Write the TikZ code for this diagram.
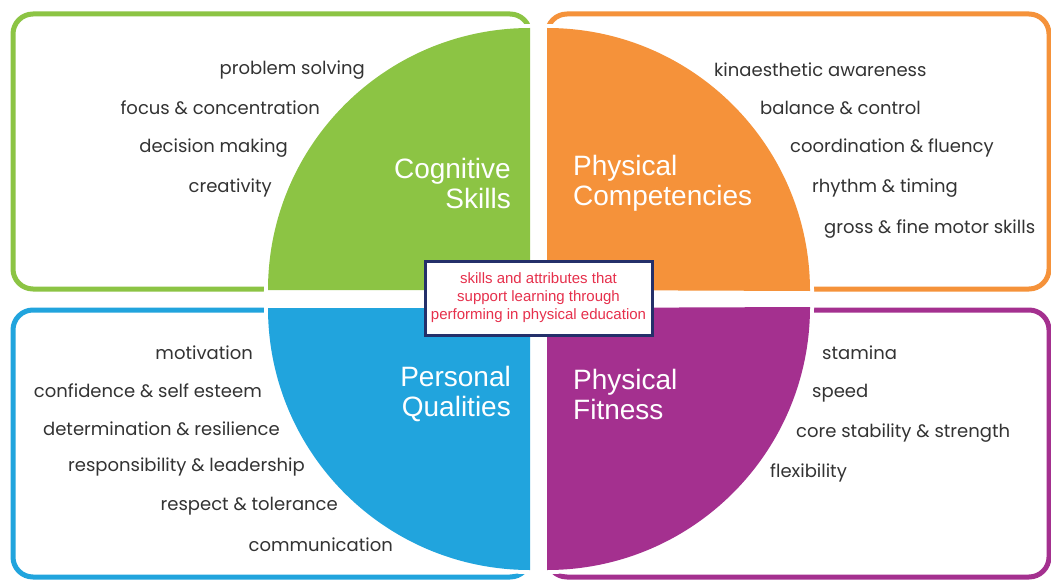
\documentclass[tikz,border=0pt]{standalone}
\usepackage{fontspec}
\newfontfamily\listfont{Poppins}
\newfontfamily\titlefont{Liberation Sans}
\definecolor{cgreen}{HTML}{8CC444}
\definecolor{corange}{HTML}{F5923A}
\definecolor{cblue}{HTML}{21A4DD}
\definecolor{cpurple}{HTML}{A4308F}
\definecolor{ctext}{HTML}{333333}
\definecolor{cnavy}{HTML}{24306A}
\definecolor{cred}{HTML}{E6304C}
\begin{document}
\begin{tikzpicture}[x=1pt,y=-1pt,
  panel/.style={line width=5pt,rounded corners=20pt},
  quarter/.style={preaction={draw=white,line width=8pt},fill=#1},
  item/.style={text=ctext,font=\listfont\fontsize{18}{20}\selectfont,inner sep=0pt},
  itemL/.style={item,anchor=east},
  itemR/.style={item,anchor=west},
  ttl/.style={text=white,font=\titlefont\fontsize{28}{30}\selectfont,inner sep=0pt,align=#1},
  centerbox/.style={draw=cnavy,line width=3pt,fill=white,minimum width=227pt,minimum height=74pt,
    text=cred,font=\titlefont\fontsize{15}{18}\selectfont,align=center,inner sep=0pt}]
\useasboundingbox (0,0) rectangle (1051,580);
\fill[white] (0,0) rectangle (1051,580);
% panels
\draw[panel,cgreen] (13,14) rectangle (530,289);
\draw[panel,corange] (547,14) rectangle (1049,289);
\draw[panel,cblue] (13,310) rectangle (530,577);
\draw[panel,cpurple] (547,310) rectangle (1049,577);
% quarters
\path[quarter=cgreen] (530,290) -- (268,290) arc[start angle=180,end angle=90,radius=262pt] -- cycle;
\path[quarter=corange] (547,290) -- (547,28) arc[start angle=90,end angle=0,radius=263pt] -- cycle;
\path[quarter=cblue] (530,308) -- (268,308) arc[start angle=180,end angle=270,radius=262pt] -- cycle;
\path[quarter=cpurple] (547,308) -- (547,570) arc[start angle=270,end angle=360,radius=263pt] -- cycle;
% titles
\node[ttl=right,anchor=east] (tcog) at (511,183) {Cognitive\\Skills};
\node[ttl=left,anchor=west] (tcomp) at (573,183) {Physical\\Competencies};
\node[ttl=right,anchor=east] (tpers) at (511,394) {Personal\\Qualities};
\node[ttl=left,anchor=west] (tfit) at (573,394) {Physical\\Fitness};
% center
\node[centerbox] (center) at (538.5,298) {skills and attributes that\\support learning through\\performing in physical education};
% cognitive
\node[itemL] (c1) at (365,70) {problem solving};
\node[itemL] (c2) at (320,108) {focus \& concentration};
\node[itemL] (c3) at (288,148) {decision making};
\node[itemL] (c4) at (272,188) {creativity};
% competencies
\node[itemR] (p1) at (714,70) {kinaesthetic awareness};
\node[itemR] (p2) at (760,108) {balance \& control};
\node[itemR] (p3) at (790,148) {coordination \& fluency};
\node[itemR] (p4) at (812,188) {rhythm \& timing};
\node[itemR] (p5) at (824,229) {gross \& fine motor skills};
% personal
\node[itemL] (q1) at (253,353) {motivation};
\node[itemL] (q2) at (262,391) {confidence \& self esteem};
\node[itemL] (q3) at (280,429) {determination \& resilience};
\node[itemL] (q4) at (305,467) {responsibility \& leadership};
\node[itemL] (q5) at (338,506) {respect \& tolerance};
\node[itemL] (q6) at (393,545) {communication};
% fitness
\node[itemR] (f1) at (822,353) {stamina};
\node[itemR] (f2) at (812,393) {speed};
\node[itemR] (f3) at (796,433) {core stability \& strength};
\node[itemR] (f4) at (770,473) {flexibility};
\end{tikzpicture}
\end{document}
